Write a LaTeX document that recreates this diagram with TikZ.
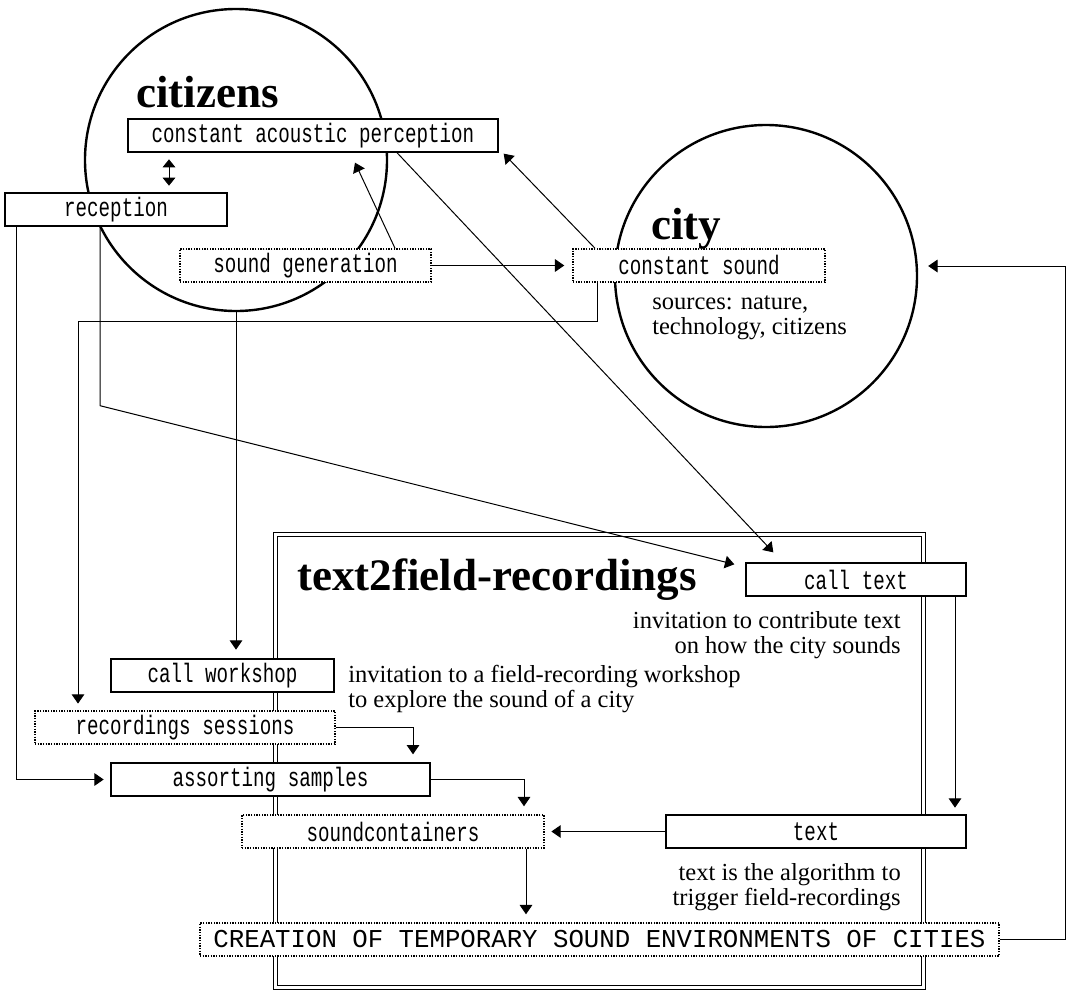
\documentclass[tikz,border=0pt]{standalone}
\usepackage{fontspec}
\setmainfont{Liberation Serif}
\newfontfamily\boxfont[FakeStretch=0.72]{Liberation Mono}
\newfontfamily\capsboxfont{Liberation Mono}
\usetikzlibrary{positioning, arrows.meta}

\begin{document}
\begin{tikzpicture}[x=0.75pt, y=-0.75pt,
  dx/.style={xshift=#1*0.75pt},
  dy/.style={yshift={-(#1)*0.75pt}},
  sz/.style 2 args={minimum width=#1*0.75pt, minimum height=#2*0.75pt},
  box/.style={draw, fill=white, line width=1pt, inner sep=0pt,
    font=\boxfont\fontsize{20}{22}\selectfont},
  dbox/.style={box, densely dotted, line width=1.1pt},
  blob/.style={draw, circle, line width=1.8pt, inner sep=0pt,
    minimum size=302*0.75pt},
  frame/.style={draw, double, line width=0.9pt, double distance=2.2pt,
    inner sep=0pt},
  head/.style={font=\bfseries\fontsize{33.8}{36}\selectfont,
    inner sep=0pt, anchor=base west},
  note/.style={font=\fontsize{18.4}{18.75}\selectfont, inner sep=0pt},
  link/.style={line width=0.75pt},
  arr/.style={link, -{Triangle[length=7pt, width=9.5pt]}}]
\useasboundingbox (0,0) rectangle (1068,993);

\node[frame, sz={648}{453}] (t2f) at (599.5,761) {};
\node[blob] (cit) at (236,160) {};
\node[blob] (city) at (766,276) {};

\node[box, sz={370}{33}] (cap) at (313,135.5) {constant acoustic perception};
\node[box, sz={222}{33}] (rec) at (116,209.5) {reception};
\node[dbox, sz={251}{33}] (sgen) at (305.5,265.5) {sound generation};
\node[dbox, sz={252}{33}] (csound) at (699,265.5) {constant sound};
\node[box, sz={220}{33}] (ctext) at (856,579.5) {call text};
\node[box, sz={223}{33}] (cwork) at (222.5,675.5) {call workshop};
\node[dbox, sz={300}{33}] (recs) at (185,727.5) {recordings sessions};
\node[box, sz={319}{33}] (asamp) at (270.5,779.5) {assorting samples};
\node[dbox, sz={302}{33}] (scont) at (393,831.5) {soundcontainers};
\node[box, sz={300}{33}] (txt) at (816,831.5) {text};
\node[dbox, sz={799}{33}, font=\capsboxfont\fontsize{19.3}{21}\selectfont]
    (crea) at (599.5,939.5) {CREATION OF TEMPORARY SOUND ENVIRONMENTS OF CITIES};

\node[head] (hcit) at (136,107) {citizens};
\node[head] (hcity) at (651,239) {city};
\node[head] (ht2f) at (297,590) {text2field-recordings};

\node[note, align=left, anchor=base west] (nsrc) at (652,334)
    {sources: nature,\\technology, citizens};
\node[note, align=right, anchor=base east] (nctext) at (901,653)
    {invitation to contribute text\\on how the city sounds};
\node[note, align=left, anchor=base west] (ncwork) at (348,707)
    {invitation to a field-recording workshop\\to explore the sound of a city};
\node[note, align=right, anchor=base east] (ntxt) at (901,905)
    {text is the algorithm to\\trigger field-recordings};

\draw[arr] ([dx=89.5]sgen.north) -- ([dx=42,dy=10]cap.south);
\draw[link, {Triangle[length=6pt, width=9.5pt]}-{Triangle[length=6pt, width=9.5pt]},
    shorten <=5pt, shorten >=5pt] ([dx=-144]cap.south) -- ([dx=53]rec.north);
\draw[arr] ([dx=-104]csound.north) -- ([dx=5,dy=1]cap.south east);
\draw[arr] ([dx=84]cap.south) -- ([dx=28,dy=-10]ctext.north west);
\draw[arr, shorten >=6pt] (sgen.east) -- (csound.west);
\draw[arr, shorten >=5pt] ([dx=-102]csound.south) -- ++(0,39) -| ([dx=-107]recs.north);
\draw[arr, shorten >=5pt] ([dx=-100]rec.south) |- (asamp.west);
\draw[arr] ([dx=-16]rec.south) -- ++(0,179) -- ([dx=-11,dy=2]ctext.north west);
\draw[arr, shorten >=6.5pt] (cit.south) -- ([dx=13.5]cwork.north);
\draw[arr, shorten >=6pt] (recs.east) -| ([dx=142.5]asamp.north);
\draw[arr, shorten >=6pt] (asamp.east) -| ([dx=131]scont.north);
\draw[arr, shorten >=5pt] ([dx=99]ctext.south) -- ([dx=139]txt.north);
\draw[arr, shorten >=5pt] (txt.west) -- (scont.east);
\draw[arr, shorten >=6pt] ([dx=133]scont.south) -- ([dx=-73.5]crea.north);
\draw[arr, shorten >=7.5pt] (crea.east) -- ++(66,0) |- ([dy=-10]city.east);
\end{tikzpicture}
\end{document}
